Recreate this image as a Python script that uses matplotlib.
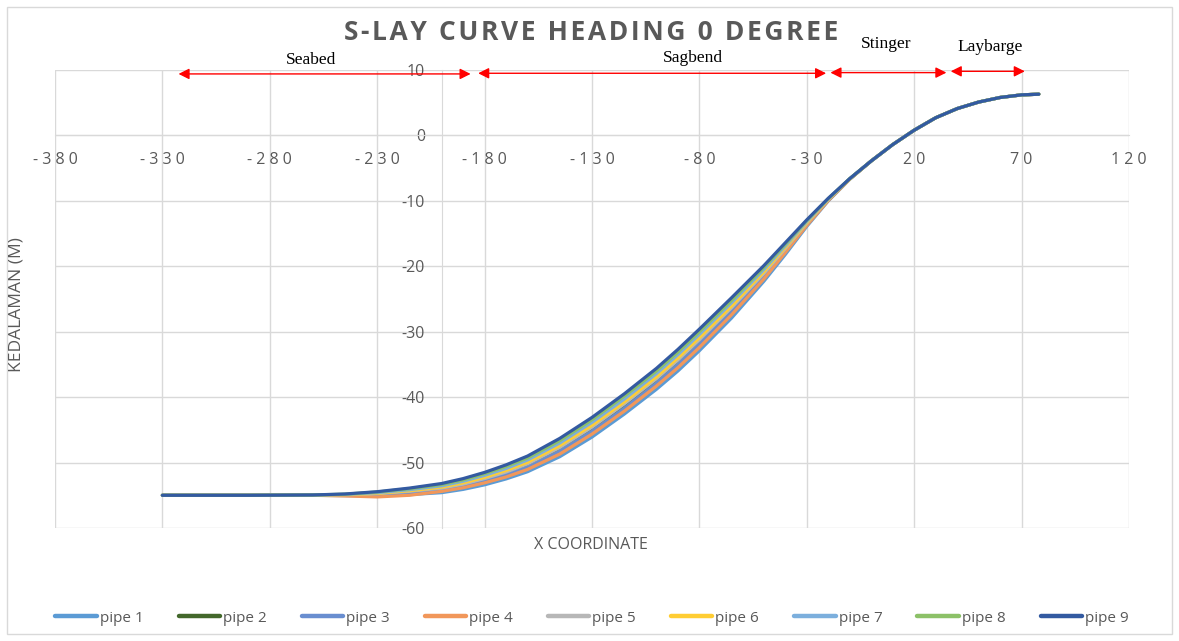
import numpy as np
import matplotlib.pyplot as plt
from matplotlib.patches import Rectangle

plt.rcParams['axes.unicode_minus'] = False

# x coordinate of every sampled point (same for all pipes)
x_coord = [-330, -290, -260, -245, -230, -215, -200, -190, -180, -170, -160, -145,
           -130, -115, -100, -90, -80, -65, -50, -40, -30, -20, -10, 0,
           10, 20, 30, 40, 50, 60, 70, 78]

seabed_part = [-55.0, -55.0]
laybarge_part = [-1.4, 0.8, 2.7, 4.1, 5.1, 5.8, 6.2, 6.3]

pipe1 = seabed_part + [-55.0, -55.05, -55.1, -54.9, -54.6, -54.1, -53.4, -52.5, -51.4, -49.1,
                       -46.1, -42.6, -38.8, -36.0, -32.9, -27.9, -22.3, -18.2, -13.9, -10.0,
                       -6.7, -3.9] + laybarge_part
pipe2 = seabed_part + [-54.98, -54.92, -54.7, -54.3, -53.75, -53.2, -52.4, -51.5, -50.4, -48.0,
                       -44.9, -41.4, -37.5, -34.7, -31.6, -26.7, -21.4, -17.5, -13.5, -9.85,
                       -6.65, -3.9] + laybarge_part
pipe3 = seabed_part + [-54.99, -54.98, -54.9, -54.6, -54.2, -53.6, -52.8, -51.85, -50.7, -48.25,
                       -45.2, -41.7, -37.85, -35.0, -31.9, -27.0, -21.6, -17.65, -13.6, -9.9,
                       -6.65, -3.9] + laybarge_part
pipe4 = seabed_part + [-55.0, -55.1, -55.25, -55.0, -54.4, -53.85, -53.1, -52.2, -51.05, -48.7,
                       -45.65, -42.15, -38.3, -35.5, -32.4, -27.4, -21.95, -17.9, -13.75, -9.95,
                       -6.7, -3.9] + laybarge_part
pipe5 = seabed_part + [-54.97, -54.92, -54.75, -54.4, -53.9, -53.3, -52.45, -51.45, -50.2, -47.7,
                       -44.6, -41.05, -37.2, -34.35, -31.25, -26.35, -21.1, -17.3, -13.4, -9.8,
                       -6.65, -3.9] + laybarge_part
pipe6 = seabed_part + [-54.97, -54.9, -54.7, -54.3, -53.75, -53.1, -52.25, -51.2, -49.95, -47.4,
                       -44.3, -40.75, -36.9, -34.0, -30.9, -26.05, -20.85, -17.1, -13.3, -9.75,
                       -6.65, -3.9] + laybarge_part
pipe7 = seabed_part + [-54.96, -54.86, -54.6, -54.15, -53.55, -52.85, -51.95, -50.9, -49.6, -47.0,
                       -43.85, -40.3, -36.4, -33.5, -30.4, -25.55, -20.5, -16.85, -13.15, -9.7,
                       -6.6, -3.9] + laybarge_part
pipe8 = seabed_part + [-54.95, -54.83, -54.5, -54.0, -53.35, -52.65, -51.7, -50.6, -49.3, -46.65,
                       -43.45, -39.85, -36.0, -33.1, -30.0, -25.2, -20.2, -16.6, -13.0, -9.65,
                       -6.6, -3.9] + laybarge_part
pipe9 = seabed_part + [-54.95, -54.8, -54.45, -53.9, -53.2, -52.45, -51.5, -50.35, -49.0, -46.3,
                       -43.1, -39.5, -35.6, -32.7, -29.6, -24.8, -19.9, -16.4, -12.9, -9.6,
                       -6.6, -3.9] + laybarge_part

pipe_names = ["pipe 1", "pipe 2", "pipe 3", "pipe 4", "pipe 5",
              "pipe 6", "pipe 7", "pipe 8", "pipe 9"]
pipe_colors = ["#5B9BD5", "#43682B", "#698ED0", "#F1975A", "#B7B7B7",
               "#FFCD33", "#7CAFDD", "#8CC168", "#335AA1"]
pipes = [pipe1, pipe2, pipe3, pipe4, pipe5, pipe6, pipe7, pipe8, pipe9]

# zone markers above the plot
zones = ["Seabed", "Sagbend", "Stinger", "Laybarge"]
zone_start = [-322.5, -183, -19, 37]
zone_end = [-186.5, -21, 35, 71.5]
zone_y = [9.4, 9.5, 9.6, 9.8]
zone_lx = [-261, -83, 7, 55.5]
zone_ly = [11.5, 11.8, 14.0, 13.5]

GRAY = "#595959"
GRID = "#D9D9D9"

fig = plt.figure(figsize=(11.79, 6.41), dpi=100)
ax = fig.add_axes([55 / 1179, 1 - 528 / 641, (1129 - 55) / 1179, (528 - 70) / 641])

for y, name, c in zip(pipes, pipe_names, pipe_colors):
    ax.plot(x_coord, y, color=c, lw=2.3, label=name, solid_capstyle='round', zorder=3)

ax.set_xlim(-380, 120)
ax.set_ylim(-60, 10)
ax.set_xticks(np.arange(-380, 121, 50))
ax.set_yticks(np.arange(-60, 11, 10))
ax.set_xticklabels([" ".join(str(v)) for v in np.arange(-380, 121, 50)])
ax.grid(True, color=GRID, lw=1)
ax.set_axisbelow(True)
for s in ["top", "right"]:
    ax.spines[s].set_visible(False)
ax.spines["left"].set_position(("data", -200))
ax.spines["bottom"].set_position(("data", 0))
ax.spines["left"].set_color(GRID)
ax.spines["bottom"].set_color(GRID)
ax.tick_params(axis="both", length=0, colors=GRAY, labelsize=11.5)
ax.tick_params(axis="x", pad=12)
ax.tick_params(axis="y", pad=12)
for lab in ax.get_xticklabels() + ax.get_yticklabels():
    lab.set_family(["Open Sans", "DejaVu Sans"])

for name, x0, x1, ya, lx, ly in zip(zones, zone_start, zone_end, zone_y, zone_lx, zone_ly):
    ax.annotate("", xy=(x1, ya), xytext=(x0, ya), annotation_clip=False,
                arrowprops=dict(arrowstyle="<|-|>", color="red", lw=1,
                                mutation_scale=16, shrinkA=0, shrinkB=0))
    ax.text(lx, ly, name, ha="center", va="center", fontsize=12.5,
            family="Liberation Serif", color="black", clip_on=False)

title = "\u200a".join("S-LAY CURVE HEADING 0 DEGREE")
fig.text(591 / 1179, 1 - 32 / 641, title, ha="center", va="center",
         fontsize=19, fontweight="bold", color=GRAY, family=["Open Sans", "DejaVu Sans"])
fig.text(17 / 1179, 1 - 305 / 641, "KEDALAMAN (M)", rotation=90, ha="center", va="center",
         fontsize=12.5, color=GRAY, family="Open Sans")
fig.text(591 / 1179, 1 - 545 / 641, "X COORDINATE", ha="center", va="center",
         fontsize=11.5, color=GRAY, family="Open Sans")

leg = fig.legend(loc="center", bbox_to_anchor=(592 / 1179, 1 - 618 / 641), ncol=9, frameon=False,
                 handlelength=2.7, handletextpad=0.2, columnspacing=2.3,
                 prop={"family": "Open Sans", "size": 11})
for t in leg.get_texts():
    t.set_color(GRAY)
for h in leg.get_lines():
    h.set_linewidth(3.2)

fig.patches.append(Rectangle((7 / 1179, 7 / 641), 1165 / 1179, 627 / 641,
                             transform=fig.transFigure, fill=False, ec=GRID, lw=1))

fig.savefig("out.png", dpi=100)
